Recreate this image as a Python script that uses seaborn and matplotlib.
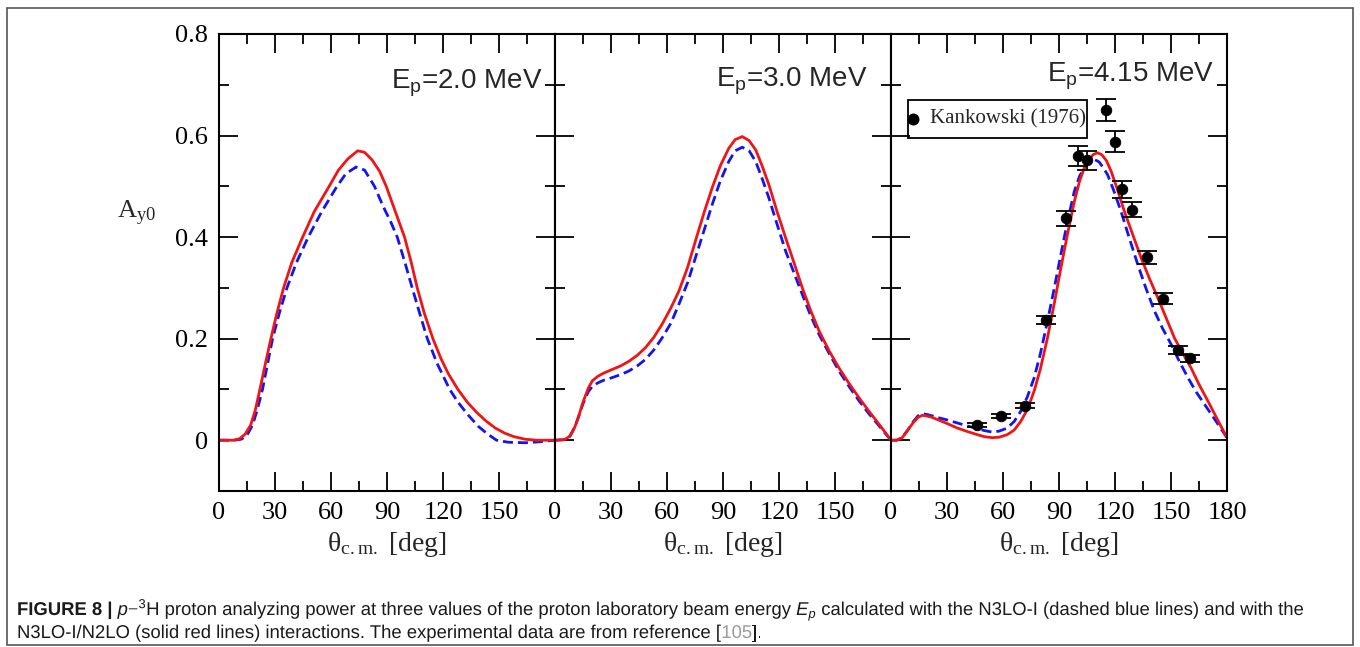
import numpy as np
import pandas as pd
import matplotlib
matplotlib.use("Agg")
import matplotlib.pyplot as plt
import seaborn as sns
from matplotlib.patches import Rectangle, PathPatch
from matplotlib.textpath import TextPath
from matplotlib.font_manager import FontProperties
from matplotlib.transforms import Affine2D

# ---- data (theta in deg, A_y0) ----
# Ep = 2.0 MeV
th_20_red = [0, 8, 11, 14, 17, 19.5, 21.9, 24.8, 27.8, 31, 34.6, 39, 44.8, 51, 59, 64, 69, 74.3, 78, 82,
             86, 89.6, 94, 99.4, 103, 106.2, 110, 114.6, 119, 123, 128, 133, 138, 143, 148, 153, 158, 164, 170, 180]
ay_20_red = [0, 0, 0.003, 0.012, 0.03, 0.06, 0.1, 0.15, 0.2, 0.25, 0.3, 0.35, 0.4, 0.45, 0.5, 0.532, 0.554, 0.570, 0.567, 0.552,
             0.53, 0.5, 0.455, 0.4, 0.35, 0.3, 0.25, 0.2, 0.16, 0.13, 0.1, 0.075, 0.055, 0.038, 0.024, 0.014, 0.007, 0.002, 0, 0]
th_20_blue = [0, 8, 12, 15, 18, 20.5, 23.3, 26, 28.7, 32.3, 36.4, 41.5, 47.8, 55, 63.2, 68, 73.4, 78, 83.3, 88,
              92, 95.5, 100, 103.5, 107.5, 111.6, 117, 123.6, 128, 133.4, 139, 144, 148.7, 155, 164, 172, 180]
ay_20_blue = [0, 0, 0.002, 0.01, 0.03, 0.06, 0.1, 0.15, 0.2, 0.25, 0.3, 0.35, 0.4, 0.45, 0.5, 0.525, 0.538, 0.532, 0.5, 0.46,
              0.43, 0.4, 0.345, 0.3, 0.25, 0.2, 0.15, 0.1, 0.075, 0.05, 0.027, 0.012, 0.0, -0.004, -0.005, -0.003, 0]

# Ep = 3.0 MeV
th_30 = [0, 5, 8, 10.5, 12.5, 15, 17.9, 20, 23, 26, 30.4, 35, 39.4, 44, 48.4, 53, 57.3, 62, 66.3, 71, 75.2, 80,
         84.2, 88.5, 93.1, 96.5, 100.3, 104, 107.5, 111, 114.6, 119, 123.6, 128, 132.5, 137, 141.5, 147, 152.2,
         157.5, 163, 168, 173.7, 177, 180]
ay_30_red = [0, 0.001, 0.008, 0.025, 0.045, 0.075, 0.103, 0.117, 0.126, 0.132, 0.139, 0.146, 0.155, 0.167, 0.182,
             0.203, 0.228, 0.26, 0.293, 0.34, 0.392, 0.45, 0.497, 0.54, 0.575, 0.592, 0.598, 0.59, 0.572, 0.54, 0.503,
             0.45, 0.398, 0.35, 0.3, 0.255, 0.215, 0.175, 0.142, 0.112, 0.083, 0.058, 0.031, 0.015, 0]
ay_30_blue = [0, 0.001, 0.008, 0.025, 0.045, 0.072, 0.096, 0.106, 0.113, 0.118, 0.123, 0.129, 0.136, 0.146, 0.159,
              0.178, 0.201, 0.23, 0.267, 0.31, 0.359, 0.415, 0.464, 0.51, 0.549, 0.57, 0.577, 0.57, 0.549, 0.515, 0.477,
              0.425, 0.372, 0.33, 0.287, 0.245, 0.208, 0.17, 0.136, 0.106, 0.077, 0.053, 0.028, 0.013, 0]

# Ep = 4.15 MeV
th_415_red = [0, 3, 6, 9, 12, 14.5, 16.7, 19, 22, 24.7, 30, 35.5, 41, 46.2, 50, 54.3, 58, 62.3, 66, 69.5, 73, 76.7,
              80, 83.8, 87.5, 91, 94.5, 98.2, 101, 103.5, 106, 108.5, 110.7, 113, 115.5, 117.9, 121, 125, 129.5, 134,
              138.5, 143, 147.5, 151.9, 156.5, 160.8, 165, 169.8, 175, 180]
ay_415_red = [0, 0, 0.005, 0.02, 0.035, 0.045, 0.049, 0.048, 0.045, 0.041, 0.033, 0.024, 0.017, 0.011, 0.007, 0.005,
              0.006, 0.011, 0.02, 0.037, 0.06, 0.097, 0.14, 0.201, 0.27, 0.339, 0.405, 0.47, 0.51, 0.536, 0.553, 0.563,
              0.566, 0.562, 0.55, 0.53, 0.497, 0.451, 0.405, 0.359, 0.318, 0.28, 0.24, 0.201, 0.17, 0.142, 0.11, 0.077,
              0.04, 0.005]
th_415_blue = [0, 3, 6, 9, 12, 14.5, 16.7, 19, 22, 24.7, 30, 35.5, 41, 46.2, 50, 54.3, 58, 62.3, 66, 69.5, 73, 76.7,
               80, 83.8, 87.5, 91, 94.5, 98.2, 101, 103.5, 106, 108.9, 111.5, 114, 116, 119, 123.2, 127.5, 132.2,
               136.5, 141.2, 145.5, 150.2, 154.5, 159.1, 163.5, 168.1, 174, 180]
ay_415_blue = [0, 0, 0.005, 0.02, 0.037, 0.048, 0.052, 0.051, 0.048, 0.045, 0.04, 0.034, 0.028, 0.023, 0.019, 0.016,
               0.018, 0.024, 0.037, 0.057, 0.085, 0.123, 0.17, 0.234, 0.3, 0.366, 0.43, 0.49, 0.52, 0.536, 0.548, 0.553,
               0.548, 0.535, 0.523, 0.495, 0.451, 0.4, 0.346, 0.3, 0.254, 0.22, 0.188, 0.155, 0.123, 0.095, 0.07,
               0.038, 0.005]

# Kankowski (1976), Ep = 4.15 MeV
th_exp = [46, 59, 71.6, 83.2, 94, 100, 105.2, 115.4, 120, 123.6, 129.2, 137.4, 145.5, 153.7, 160.3]
ay_exp = [0.030, 0.048, 0.068, 0.236, 0.437, 0.560, 0.551, 0.650, 0.588, 0.494, 0.454, 0.360, 0.279, 0.178, 0.161]
err_exp = [0.004, 0.004, 0.005, 0.008, 0.015, 0.02, 0.018, 0.022, 0.02, 0.017, 0.015, 0.013, 0.01, 0.008, 0.007]

energies = ["2.0", "3.0", "4.15"]
models = ["N3LO-I", "N3LO-I/N2LO"]

sns.set_style("ticks")
plt.rcParams["font.family"] = ["Liberation Serif", "DejaVu Serif"]
plt.rcParams["mathtext.fontset"] = "custom"
plt.rcParams["mathtext.rm"] = "Liberation Serif"
plt.rcParams["mathtext.sf"] = "Liberation Sans"
plt.rcParams["mathtext.it"] = "Liberation Sans:italic"
plt.rcParams["mathtext.bf"] = "Liberation Sans:bold"

curves = [
    (th_20_blue, ay_20_blue, th_20_red, ay_20_red),
    (th_30, ay_30_blue, th_30, ay_30_red),
    (th_415_blue, ay_415_blue, th_415_red, ay_415_red),
]

W, H = 1360, 647
fig = plt.figure(figsize=(W / 100, H / 100), dpi=100)
L, R, B, T = 219 / W, 1227 / W, 1 - 491 / H, 1 - 34 / H
pw = (R - L) / 3
axes = [fig.add_axes([L + i * pw, B, pw, T - B]) for i in range(3)]

pal = {"N3LO-I": "#1414f0", "N3LO-I/N2LO": "#f01414"}
ep_pos = [(173.7, 0.693), (167.5, 0.696), (173.4, 0.707)]

for i, ax in enumerate(axes):
    tb, ab, tr, ar = curves[i]
    df = pd.concat([
        pd.DataFrame({"theta": tb, "Ay": ab, "model": models[0]}),
        pd.DataFrame({"theta": tr, "Ay": ar, "model": models[1]}),
    ])
    sns.lineplot(data=df, x="theta", y="Ay", hue="model", style="model", palette=pal,
                 dashes={models[0]: (3.6, 1.8), models[1]: ""}, estimator=None,
                 linewidth=2.0, legend=False, ax=ax)

    ax.set_xlim(0, 180)
    ax.set_ylim(-0.1, 0.8)
    ax.set_xticks(np.arange(0, 181, 30))
    ax.set_xticks(np.arange(15, 180, 30), minor=True)
    ax.set_yticks([0, 0.2, 0.4, 0.6, 0.8])
    ax.set_yticks([0.1, 0.3, 0.5, 0.7], minor=True)
    xl = ["0", "30", "60", "90", "120", "150", "180" if i == 2 else ""]
    ax.set_xticklabels(xl)
    if i == 0:
        ax.set_yticklabels(["0", "0.2", "0.4", "0.6", "0.8"])
    else:
        ax.tick_params(labelleft=False)
    ax.tick_params(which="both", direction="in", top=True, right=True, width=1.3, colors="black")
    ax.tick_params(which="major", length=14, labelsize=19, pad=8)
    ax.tick_params(which="minor", length=7)
    for s in ax.spines.values():
        s.set_linewidth(1.5)
        s.set_color("black")
    ax.set_xlabel(r"$\mathrm{\theta_{c.m.}}$ [deg]", fontsize=20, labelpad=4)
    ax.set_ylabel("")
    ax.text(ep_pos[i][0], ep_pos[i][1], r"$\mathsf{E_p}$=" + energies[i] + " MeV",
            family="Liberation Sans", fontsize=20, ha="right", va="baseline")

axes[0].set_ylabel(r"$\mathrm{A_{y0}}$", fontsize=19, rotation=0)
axes[0].yaxis.set_label_coords(-0.245, 0.576)

ax3 = axes[2]
ax3.errorbar(th_exp, ay_exp, yerr=err_exp, fmt="none", ecolor="black",
             elinewidth=1.3, capsize=7, capthick=1.3)
sns.scatterplot(x=th_exp, y=ay_exp, color="black", s=58, edgecolor="black", ax=ax3, zorder=5)

# legend box, drawn by hand to get the tight frame of the original
ax3.add_patch(Rectangle((9.1, 0.5957), 95.9, 0.0749, fill=False, edgecolor="black", linewidth=1.3, zorder=6))
ax3.plot([11.8], [0.633], ls="none", marker="o", color="black", ms=7.6, zorder=6)
ax3.text(20.9, 0.633, "Kankowski (1976)", fontsize=15, va="center", ha="left", zorder=6)

# outer frame
fig.patches.append(Rectangle((7 / W, 2 / H), 1346 / W, 637 / H, transform=fig.transFigure,
                             fill=False, edgecolor="#555555", linewidth=1.2))

# caption: condensed sans, drawn as paths squeezed horizontally
cap_fp = FontProperties(family="Liberation Sans")
EM = 18.5


def cap_piece(s, x, base, sx, color):
    tp = TextPath((0, 0), s, size=EM, prop=cap_fp)
    tr = Affine2D().scale(sx, 1).translate(x, H - base)
    fig.patches.append(PathPatch(tp, transform=tr, facecolor=color, edgecolor="none", lw=0))
    return x + tp.get_extents().x1 * sx


line1 = (r"$\mathbf{FIGURE\ 8\ |}$ $\mathit{p}$$-$$^{\mathsf{3}}$H proton analyzing power at three values of the "
         r"proton laboratory beam energy $E_p$ calculated with the N3LO-I (dashed blue lines) and with the")
sx = 1286 / TextPath((0, 0), line1, size=EM, prop=cap_fp).get_extents().x1
cap_piece(line1, 17, 615, sx, "#1a1a1a")

x = 17
for s, c in [("N3LO-I/N2LO (solid red lines) interactions. The experimental data are from reference [", "#1a1a1a"),
             ("105", "#9a9a9a"), ("].", "#1a1a1a")]:
    x = cap_piece(s, x, 638, sx, c) + 0.5

fig.savefig("out.png", dpi=100)
